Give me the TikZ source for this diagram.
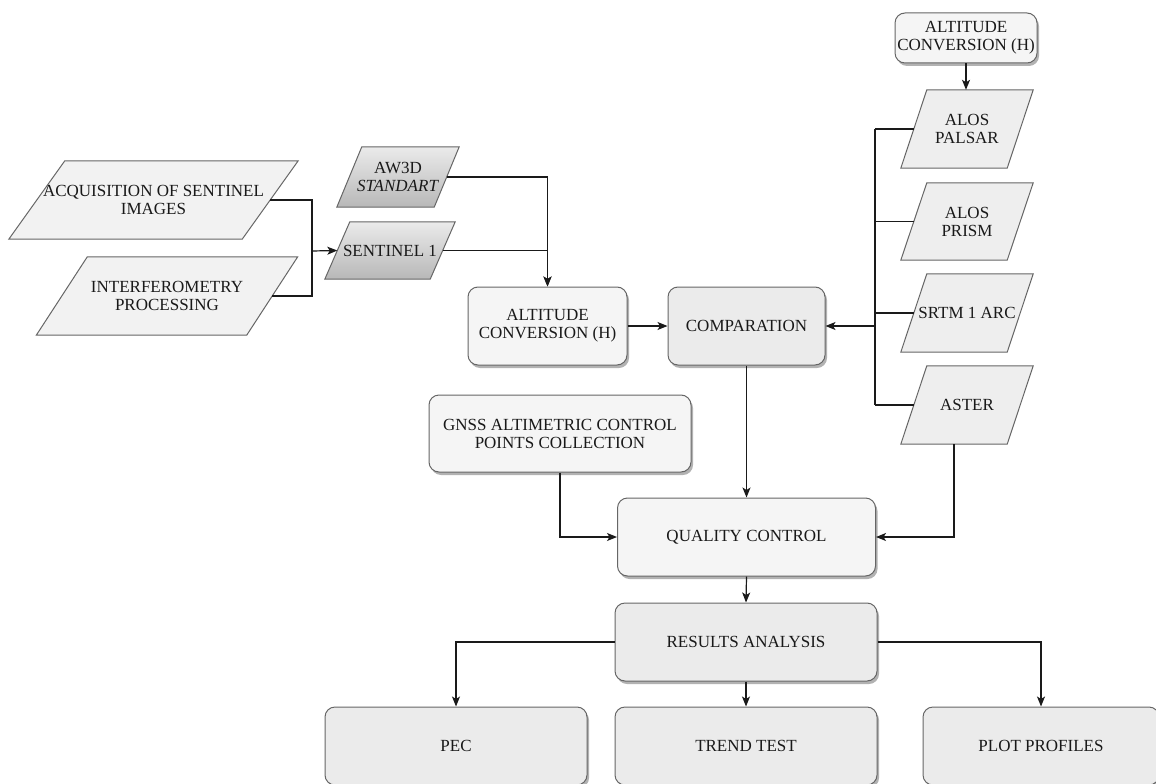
\documentclass[tikz,border=0pt]{standalone}
\usepackage{fontspec}
\setmainfont{Liberation Serif}
\usetikzlibrary{arrows.meta,shadows,backgrounds}
\definecolor{border}{HTML}{666666}
\definecolor{lightfill}{HTML}{F5F5F5}
\definecolor{midfill}{HTML}{EBEBEB}
\definecolor{parafill}{HTML}{EEEEEE}
\definecolor{acqfill}{HTML}{F2F2F2}
\definecolor{linec}{HTML}{1A1A1A}
\newcommand{\drawpara}[3]{\path[#3] ([xshift=#2pt]#1.north west) -- ([xshift=#2pt]#1.north east) -- ([xshift=-#2pt]#1.south east) -- ([xshift=-#2pt]#1.south west) -- cycle;}
\tikzset{
  txt/.style={align=center, inner sep=0pt, font=\fontsize{17}{18}\selectfont, text=black!90},
  box/.style={txt, draw=border, line width=1pt, rounded corners=10pt,
    drop shadow={shadow xshift=2pt, shadow yshift=-3pt, fill=black, opacity=0.3}},
  lbox/.style={box, fill=lightfill},
  mbox/.style={box, fill=midfill},
  parabox/.style={txt},
  parashape/.style={draw=border, line width=1pt, fill=parafill},
  acqshape/.style={draw=border, line width=1pt, fill=acqfill},
  gradshape/.style={draw=border, line width=1pt, top color=black!8, bottom color=black!28},
  conn/.style={draw=linec, line width=1.2pt},
  arr/.style={conn, -{Stealth[length=10pt,width=8pt,inset=2.5pt]}},
}
\begin{document}
\begin{tikzpicture}[x=1pt,y=-1pt]
\clip (0,0) rectangle (1156,784);

% parallelogram text nodes
\node[parabox, minimum width=233pt, minimum height=78pt] (acq) at (153.5,200) {ACQUISITION OF SENTINEL\\IMAGES};
\node[parabox, minimum width=210pt, minimum height=78pt] (inter) at (167,296) {INTERFEROMETRY\\PROCESSING};
\node[parabox, minimum width=97pt, minimum height=60pt] (aw3d) at (398,177) {AW3D\\\textit{STANDART}};
\node[parabox, minimum width=105pt, minimum height=57pt] (sent) at (390,250.5) {SENTINEL 1};
\node[parabox, minimum width=106pt, minimum height=78pt] (palsar) at (967,129) {ALOS\\PALSAR};
\node[parabox, minimum width=106pt, minimum height=77pt] (prism) at (967,221.5) {ALOS\\PRISM};
\node[parabox, minimum width=106pt, minimum height=78pt] (srtm) at (967,313) {SRTM 1 ARC};
\node[parabox, minimum width=106pt, minimum height=78pt] (aster) at (967,405) {ASTER};

\begin{scope}[on background layer]
\fill[white] (0,0) rectangle (1156,784);
\drawpara{acq}{28}{acqshape}
\drawpara{inter}{25.5}{acqshape}
\drawpara{aw3d}{12.5}{gradshape}
\drawpara{sent}{12.5}{gradshape}
\drawpara{palsar}{13}{parashape}
\drawpara{prism}{13}{parashape}
\drawpara{srtm}{13}{parashape}
\drawpara{aster}{13}{parashape}
\end{scope}

% rounded boxes
\node[lbox, minimum width=159pt, minimum height=78pt] (alt1) at (547.5,326) {ALTITUDE\\CONVERSION (H)};
\node[mbox, minimum width=157pt, minimum height=78pt] (comp) at (746.5,326) {COMPARATION};
\node[lbox, minimum width=142pt, minimum height=50pt] (alt2) at (966,38) {ALTITUDE\\CONVERSION (H)};
\node[lbox, minimum width=262pt, minimum height=77pt] (gnss) at (560,433.5) {GNSS ALTIMETRIC CONTROL\\POINTS COLLECTION};
\node[lbox, minimum width=258pt, minimum height=78pt] (qc) at (746.5,537) {QUALITY CONTROL};
\node[mbox, minimum width=262pt, minimum height=78pt] (res) at (746,642) {RESULTS ANALYSIS};
\node[mbox, minimum width=262pt, minimum height=78pt] (pec) at (456,746) {PEC};
\node[mbox, minimum width=262pt, minimum height=78pt] (trend) at (746,746) {TREND TEST};
\node[mbox, minimum width=236pt, minimum height=78pt] (plot) at (1041,746) {PLOT PROFILES};

% helper coordinates
\coordinate (joinL) at (312,251);
\coordinate (bus) at (875,326);
\coordinate (asterbot) at ([xshift=-13pt]aster.south);

% connectors left
\draw[conn] (acq.east) -| (joinL);
\draw[conn] (inter.east) -| (joinL);
\draw[arr] (joinL) -- (sent.west);
\draw[arr] (aw3d.east) -| (alt1.north);
\draw[arr] (sent.east) -| (alt1.north);
\draw[arr] (alt1.east) -- (comp.west);

% right bus
\draw[arr] (alt2.south) -- (alt2.south |- palsar.north);
\draw[conn] (palsar.west -| bus) -- (aster.west -| bus);
\draw[conn] (palsar.west) -- (palsar.west -| bus);
\draw[conn] (prism.west) -- (prism.west -| bus);
\draw[conn] (srtm.west) -- (srtm.west -| bus);
\draw[conn] (aster.west) -- (aster.west -| bus);
\draw[arr] (bus) -- (comp.east);

% to quality control
\draw[arr] (comp.south) -- (qc.north);
\draw[arr] (gnss.south) |- (qc.west);
\draw[arr] (asterbot) |- (qc.east);

% results
\draw[arr] (qc.south) -- (res.north);
\draw[arr] (res.west) -| (pec.north);
\draw[arr] (res.south) -- (trend.north);
\draw[arr] (res.east) -| (plot.north);
\end{tikzpicture}
\end{document}
